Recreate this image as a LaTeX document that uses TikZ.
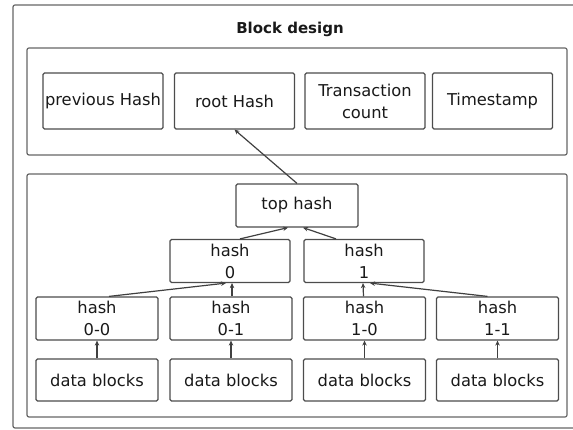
\documentclass[tikz,border=0pt]{standalone}
\usepackage{fontspec}
\setmainfont{DejaVu Sans}
\usetikzlibrary{arrows.meta}
\begin{document}
\begin{tikzpicture}[x=1pt,y=-1pt,line width=1.2pt,
  frame/.style={draw=black!60, rounded corners=2pt},
  cell/.style={draw=black!70, rounded corners=1.5pt, align=center, inner sep=0pt,
    minimum width=120pt, minimum height=43pt, text=black!90,
    font=\fontsize{16.3}{22}\selectfont},
  link/.style={draw=black!75, -{Stealth[length=5pt,width=4.5pt]}}]
\useasboundingbox (0,0) rectangle (573,430);
% outer frame and the two groups
\draw[frame] (13,5) rectangle (590,428);
\node[font=\bfseries\fontsize{15}{18}\selectfont, text=black!90] (title) at (290,29) {Block design};
\draw[frame] (27,48) rectangle (567,155);
\draw[frame] (27,174) rectangle (567,417);
% block header
\node[cell, minimum height=56pt] (prev) at (103,101) {previous Hash};
\node[cell, minimum height=56pt] (root) at (234.5,101) {root Hash};
\node[cell, minimum height=56pt] (count) at (365,101) {Transaction\\count};
\node[cell, minimum height=56pt] (stamp) at (492.5,101) {Timestamp};
% merkle tree
\node[cell, minimum width=122pt] (top) at (297,205.5) {top hash};
\node[cell] (h0) at (230,261) {hash\\0};
\node[cell] (h1) at (364,261) {hash\\1};
\foreach \x/\n/\t in {97/00/0-0, 231/01/0-1, 364.5/10/1-0, 497.5/11/1-1}{
  \node[cell, minimum width=122pt] (h\n) at (\x,318.5) {hash\\\t};
  \node[cell, minimum width=122pt, minimum height=42pt] (d\n) at (\x,380) {data blocks};
  \draw[link] (d\n.north) -- (h\n.south);
}
\draw[link] ([xshift=12pt]h00.north) -- ([xshift=-4pt]h0.south);
\draw[link] ([xshift=1pt]h01.north) -- ([xshift=2pt]h0.south);
\draw[link] ([xshift=-1pt]h10.north) -- ([xshift=-1pt]h1.south);
\draw[link] ([xshift=-10pt]h11.north) -- ([xshift=6pt]h1.south);
\draw[link] ([xshift=10pt]h0.north) -- ([xshift=-9pt]top.south);
\draw[link] ([xshift=-28pt]h1.north) -- ([xshift=6pt]top.south);
\draw[link] (top.north) -- (root.south);
\end{tikzpicture}
\end{document}
